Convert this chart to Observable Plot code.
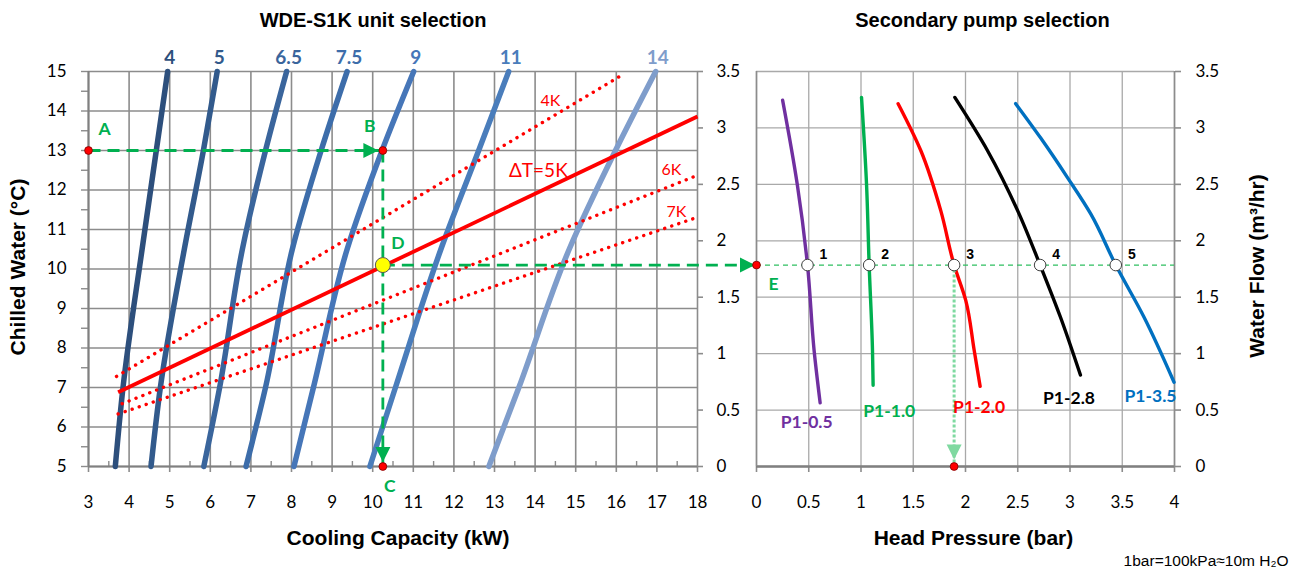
<!DOCTYPE html>
<html>
<head>
<meta charset="utf-8">
<script src="https://cdn.jsdelivr.net/npm/d3@7"></script>
<script src="https://cdn.jsdelivr.net/npm/@observablehq/plot@0.6"></script>
<style>
  body { margin: 0; background: #fff; }
  #chart { position: relative; width: 1303px; height: 577px; }
  #chart svg { position: absolute; left: 0; top: 0; }
</style>
</head>
<body>
<div id="chart"></div>
<script>
// ---------------- DATA ----------------
// Left panel: unit selection curves (cooling capacity kW vs chilled water °C)
const unitModels = ["4", "5", "6.5", "7.5", "9", "11", "14"];
const unitColors = ["#2d4f7c", "#325a8c", "#3a659c", "#3d6daa", "#4676b8", "#4a7dbb", "#7f9dcb"];
const unitTemps = [5, 7, 10.5, 13, 15];
const unitCapacity = [
  [3.66, 3.85, 4.32, 4.67, 4.95],
  [4.54, 4.77, 5.36, 5.83, 6.17],
  [5.84, 6.23, 6.79, 7.36, 7.88],
  [6.88, 7.36, 8.02, 8.73, 9.37],
  [8.06, 8.54, 9.37, 10.23, 11.01],
  [9.93, 10.56, 11.68, 12.61, 13.35],
  [12.86, 13.60, 14.84, 15.98, 16.97]
];

// Delta-T lines
const deltaTNames = ["4K", "ΔT=5K", "6K", "7K"];
const deltaTCapacity = [[3.69, 16.19], [3.73, 18.0], [3.83, 18.02], [3.73, 18.0]];
const deltaTTemp = [[7.28, 14.94], [6.88, 13.86], [6.59, 12.38], [6.33, 11.31]];
const deltaTLabelCapacity = [14.38, 14.08, 17.36, 17.48];
const deltaTLabelTemp = [14.25, 12.49, 12.52, 11.44];

// Selection path points
const selectionNames = ["A", "B", "D", "C"];
const selectionCapacity = [3, 10.25, 10.25, 10.25];
const selectionTemp = [13, 13, 10.1, 5];

// Right panel: pump curves (head bar vs flow m3/hr)
const pumpNames = ["P1-0.5", "P1-1.0", "P1-2.0", "P1-2.8", "P1-3.5"];
const pumpColors = ["#7030a0", "#00b050", "#ff0000", "#000000", "#0070c0"];
const pumpHead = [
  [0.25, 0.39, 0.488, 0.551, 0.609],
  [1.005, 1.053, 1.078, 1.11, 1.116],
  [1.355, 1.572, 1.764, 1.891, 2.003, 2.083, 2.14],
  [1.898, 2.21, 2.50, 2.714, 2.91, 3.10],
  [2.48, 2.72, 2.976, 3.20, 3.438, 3.71, 3.996]
];
const pumpFlow = [
  [3.245, 2.50, 1.785, 1.03, 0.564],
  [3.27, 2.50, 1.785, 1.03, 0.72],
  [3.215, 2.80, 2.265, 1.785, 1.47, 1.03, 0.71],
  [3.27, 2.80, 2.265, 1.785, 1.32, 0.81],
  [3.215, 2.91, 2.56, 2.236, 1.785, 1.32, 0.746]
];
const pumpLabelHead = [0.48, 1.27, 2.13, 2.99, 3.77];
const pumpLabelFlow = [0.39, 0.49, 0.52, 0.60, 0.62];

// Duty point (E) and pump intersections 1..5
const dutyFlow = 1.785;
const dutyNames = ["1", "2", "3", "4", "5"];
const dutyHead = [0.488, 1.078, 1.891, 2.714, 3.438];
const selectedPump = 2; // index of point 3

// Ticks
const capacityTicks = d3.range(3, 19, 1);
const capacityHalfTicks = d3.range(3.5, 18, 1);
const tempTicks = d3.range(5, 16, 1);
const tempTicksAll = d3.range(5, 15.01, 0.5);
const headTicks = [0, 0.5, 1, 1.5, 2, 2.5, 3, 3.5, 4];
const flowTicks = [0, 0.5, 1, 1.5, 2, 2.5, 3, 3.5];

// ---------------- LAYOUT ----------------
const W = 1303, H = 577, mTop = 71, mBottom = H - 466;
const leftRange = [88, 697], rightRange = [756, 1174];
const GREEN = "#00b050";
const GRID = "#8c8c8c";
const style = {fontFamily: "Lato, sans-serif", fontSize: "17px", color: "#000", background: "transparent", overflow: "visible"};
const ARIAL = "Liberation Sans, Arial, sans-serif";

const leftX = Plot.scale({x: {domain: [3, 18], range: leftRange}});
const rightX = Plot.scale({x: {domain: [0, 4], range: rightRange}});
const eCapacity = leftX.invert(rightX.apply(0));

// filled triangle symbols
const tri = (dir) => ({
  draw(ctx) {
    const L = 7.5, Wd = 7.5;
    if (dir === "right") { ctx.moveTo(L, 0); ctx.lineTo(-L, -Wd); ctx.lineTo(-L, Wd); }
    else { ctx.moveTo(0, L); ctx.lineTo(-Wd, -L); ctx.lineTo(Wd, -L); }
    ctx.closePath();
  }
});

// rows
const unitRows = unitModels.flatMap((m, i) => unitTemps.map((t, j) => ({model: m, kW: unitCapacity[i][j], T: t})));
const unitTops = unitModels.map((m, i) => ({model: m, kW: unitCapacity[i][unitTemps.length - 1], T: unitTemps[unitTemps.length - 1]}));
const deltaRows = deltaTNames.map((n, i) => ({
  name: n, x1: deltaTCapacity[i][0], x2: deltaTCapacity[i][1], y1: deltaTTemp[i][0], y2: deltaTTemp[i][1],
  lx: deltaTLabelCapacity[i], ly: deltaTLabelTemp[i]
}));
const sel = selectionNames.map((n, i) => ({name: n, kW: selectionCapacity[i], T: selectionTemp[i]}));
const [A, B, D, C] = sel;
const greenLinks = [
  {x1: A.kW, y1: A.T, x2: B.kW, y2: B.T},
  {x1: B.kW, y1: B.T, x2: C.kW, y2: C.T},
  {x1: D.kW, y1: D.T, x2: eCapacity, y2: D.T}
];
const letter = (d, dx, dy) => Plot.text([d], {x: "kW", y: "T", text: "name", dx, dy, fill: GREEN, fontWeight: "bold", fontSize: 17.5});
const title = (s, o) => Plot.text([s], {textAnchor: "middle", lineAnchor: "middle", fontWeight: "bold", fontFamily: ARIAL, ...o});

const left = Plot.plot({
  width: W, height: H,
  marginLeft: leftRange[0], marginRight: W - leftRange[1], marginTop: mTop, marginBottom: mBottom,
  style,
  x: {domain: [3, 18], label: null},
  y: {domain: [5, 15], label: null},
  color: {domain: unitModels, range: unitColors},
  marks: [
    Plot.gridX(capacityTicks, {stroke: GRID, strokeOpacity: 1, strokeWidth: 1.6}),
    Plot.gridY(tempTicks, {stroke: GRID, strokeOpacity: 1, strokeWidth: 1.6}),
    Plot.axisX(capacityTicks, {anchor: "bottom", label: null, tickSize: 6, tickPadding: 23, stroke: GRID, strokeWidth: 1.6, tickFormat: d => String(d)}),
    Plot.axisX(capacityHalfTicks, {anchor: "bottom", label: null, tickSize: -5, stroke: GRID, strokeWidth: 1.4, tickFormat: () => ""}),
    Plot.axisY(tempTicksAll, {anchor: "left", label: null, tickSize: 7, tickPadding: 15, stroke: GRID, strokeWidth: 1.4, tickFormat: d => Number.isInteger(d) ? String(d) : ""}),
    Plot.ruleY([5], {stroke: "#808080", strokeWidth: 2}),
    Plot.ruleX([3], {stroke: "#808080", strokeWidth: 2}),
    Plot.line(unitRows, {x: "kW", y: "T", z: "model", stroke: "model", strokeWidth: 5.5, curve: "monotone-y"}),
    Plot.text(unitTops, {x: "kW", y: "T", text: "model", fill: "model", dx: 2, dy: -14, fontWeight: "bold", fontSize: 19}),
    Plot.link(deltaRows.filter(d => d.name !== "ΔT=5K"), {x1: "x1", y1: "y1", x2: "x2", y2: "y2", stroke: "#ff0000", strokeWidth: 3.4, strokeDasharray: "0.1 7.3", strokeLinecap: "round"}),
    Plot.link(deltaRows.filter(d => d.name === "ΔT=5K"), {x1: "x1", y1: "y1", x2: "x2", y2: "y2", stroke: "#ff0000", strokeWidth: 3.8}),
    Plot.text(deltaRows.filter(d => d.name !== "ΔT=5K"), {x: "lx", y: "ly", text: "name", fill: "#ff0000", fontSize: 16}),
    Plot.text(deltaRows.filter(d => d.name === "ΔT=5K"), {x: "lx", y: "ly", text: "name", fill: "#ff0000", fontSize: 19}),
    Plot.link(greenLinks, {x1: "x1", y1: "y1", x2: "x2", y2: "y2", stroke: GREEN, strokeWidth: 2.8, strokeDasharray: "12 7"}),
    Plot.dot([B], {x: "kW", y: "T", symbol: tri("right"), r: 6, fill: GREEN, stroke: "none", dx: -12}),
    Plot.dot([C], {x: "kW", y: "T", symbol: tri("down"), r: 6, fill: GREEN, stroke: "none", dy: -12}),
    Plot.dot([A, B, C], {x: "kW", y: "T", r: 3.9, fill: "#ff0000", stroke: "#7a0000", strokeWidth: 0.8}),
    Plot.dot([D], {x: "kW", y: "T", r: 7.5, fill: "#ffff00", stroke: "#555", strokeWidth: 1}),
    letter(A, 16, -21),
    letter(B, -13, -24),
    letter(D, 15, -22),
    letter(C, 7, 20),
    title("WDE-S1K unit selection", {frameAnchor: "top", dx: -20, dy: -51, fontSize: 20}),
    title("Cooling Capacity (kW)", {frameAnchor: "bottom", dx: 5, dy: 72, fontSize: 21}),
    title("Chilled Water (°C)", {frameAnchor: "left", dx: -70, dy: -2, rotate: -90, fontSize: 21})
  ]
});

const pumpRows = pumpNames.flatMap((n, i) => pumpHead[i].map((h, j) => ({name: n, head: h, flow: pumpFlow[i][j]})));
const pumpLabels = pumpNames.map((n, i) => ({name: n, head: pumpLabelHead[i], flow: pumpLabelFlow[i]}));
const dutyRows = dutyNames.map((n, i) => ({name: n, head: dutyHead[i], flow: dutyFlow}));
const E = {name: "E", head: 0, flow: dutyFlow};
const selBottom = {head: dutyHead[selectedPump], flow: 0};

const right = Plot.plot({
  width: W, height: H,
  marginLeft: rightRange[0], marginRight: W - rightRange[1], marginTop: mTop, marginBottom: mBottom,
  style,
  x: {domain: [0, 4], label: null},
  y: {domain: [0, 3.5], label: null},
  color: {domain: pumpNames, range: pumpColors},
  marks: [
    Plot.gridX(headTicks, {stroke: "#a9a9a9", strokeOpacity: 1, strokeWidth: 1.3}),
    Plot.gridY(flowTicks, {stroke: "#a9a9a9", strokeOpacity: 1, strokeWidth: 1.3}),
    Plot.axisX(headTicks, {anchor: "bottom", label: null, tickSize: 6, tickPadding: 23, stroke: GRID, strokeWidth: 1.6, tickFormat: d => String(d)}),
    Plot.axisY(flowTicks, {anchor: "right", label: null, tickSize: 6, tickPadding: 15, stroke: GRID, strokeWidth: 1.6, tickFormat: d => String(d)}),
    Plot.axisY(flowTicks, {anchor: "right", label: null, dx: 696 - rightRange[1], tickSize: 6, tickPadding: 14, stroke: GRID, strokeWidth: 1.6, tickFormat: d => String(d)}),
    Plot.ruleY([0], {stroke: "#808080", strokeWidth: 2.5}),
    Plot.ruleX([0, 4], {stroke: GRID, strokeWidth: 1.6}),
    Plot.line(pumpRows, {x: "head", y: "flow", z: "name", stroke: "name", strokeWidth: 3.4, curve: "monotone-y"}),
    Plot.ruleY([dutyFlow], {x1: 0, x2: 4, stroke: "#2fbf60", strokeWidth: 1.3, strokeDasharray: "5 4"}),
    Plot.ruleX([selBottom.head], {y1: dutyFlow, y2: 0, stroke: "#7fd9a0", strokeWidth: 3, strokeDasharray: "3 2"}),
    Plot.dot([selBottom], {x: "head", y: "flow", symbol: tri("down"), r: 6, fill: "#7fd9a0", stroke: "none", dy: -14.5}),
    Plot.dot([E], {x: "head", y: "flow", symbol: tri("right"), r: 6, fill: GREEN, stroke: "none", dx: -9}),
    Plot.dot(dutyRows, {x: "head", y: "flow", r: 5.8, fill: "#fff", stroke: "#404040", strokeWidth: 1}),
    Plot.dot([E, selBottom], {x: "head", y: "flow", r: 3.9, fill: "#ff0000", stroke: "#7a0000", strokeWidth: 0.8}),
    Plot.text(dutyRows, {x: "head", y: "flow", text: "name", dx: 16, dy: -11, fontWeight: "bold", fontSize: 14, fontFamily: ARIAL}),
    Plot.text(pumpLabels, {x: "head", y: "flow", text: "name", fill: "name", fontWeight: "bold", fontSize: 17.5}),
    Plot.text([E], {x: "head", y: "flow", text: "name", dx: 17, dy: 19, fill: GREEN, fontWeight: "bold", fontSize: 17.5}),
    title("Secondary pump selection", {frameAnchor: "top", dx: 17, dy: -51, fontSize: 20}),
    title("Head Pressure (bar)", {frameAnchor: "bottom", dx: 8, dy: 72, fontSize: 21}),
    title("Water Flow (m³/hr)", {frameAnchor: "right", dx: 83, dy: -3, rotate: -90, fontSize: 21}),
    Plot.text(["1bar=100kPa≈10m H₂O"], {frameAnchor: "bottom-right", textAnchor: "end", lineAnchor: "middle", dx: 114, dy: 95, fontSize: 15.5, fontFamily: ARIAL})
  ]
});

const chart = document.getElementById("chart");
chart.appendChild(left);
chart.appendChild(right);
</script>
</body>
</html>
